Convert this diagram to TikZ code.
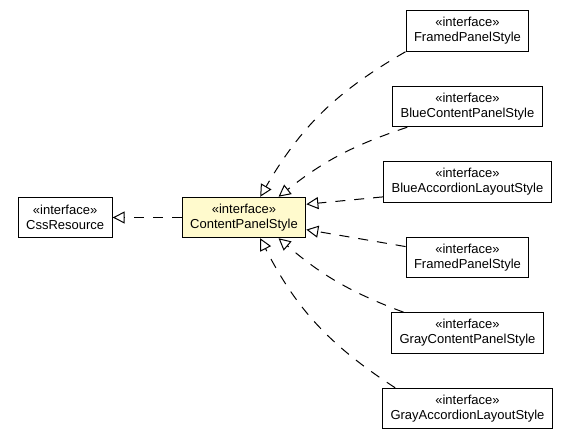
\documentclass[tikz,border=0pt]{standalone}
\usepackage{fontspec}
\setmainfont{Liberation Sans}
\usepackage{tikz}
\usetikzlibrary{arrows.meta, positioning}
\definecolor{focusfill}{RGB}{255,250,205}

\begin{document}
\begin{tikzpicture}[x=1pt, y=-1pt, node distance = 34pt,
    iface/.style={draw, line width=1pt, align=center, minimum height=40.5pt,
      inner xsep=8pt, font=\fontsize{13}{15}\selectfont},
    impl/.style={line width=1pt, dash pattern=on 10pt off 9pt,
      -{Triangle[open, length=12pt, width=12pt]}}]
            \useasboundingbox (0,0) rectangle (571,435);
            \node (cps) [iface, fill=focusfill] at (244,217.5) {«interface»\\ContentPanelStyle};
            \node (css) [iface, left=69pt of cps] {«interface»\\CssResource};
            \node (fps1) [iface] at (467.5,31) {«interface»\\FramedPanelStyle};
            \node (bcps) [iface, below= of fps1] {«interface»\\BlueContentPanelStyle};
            \node (bals) [iface, below= of bcps] {«interface»\\BlueAccordionLayoutStyle};
            \node (fps2) [iface, below= of bals] {«interface»\\FramedPanelStyle};
            \node (gcps) [iface, below= of fps2] {«interface»\\GrayContentPanelStyle};
            \node (gals) [iface, below= of gcps] {«interface»\\GrayAccordionLayoutStyle};

           \path[impl]
            (cps) edge (css)
            (fps1.south west) edge [bend right=15] (cps.52)
            (bcps.199) edge [bend right=10] (cps.31)
            (bals.190) edge (cps.12)
            (fps2.170) edge (cps.-11)
            (gcps.162) edge [bend left=10] (cps.-31)
            (gals.164) edge [bend left=15] (cps.-52);
        \end{tikzpicture}
\end{document}
